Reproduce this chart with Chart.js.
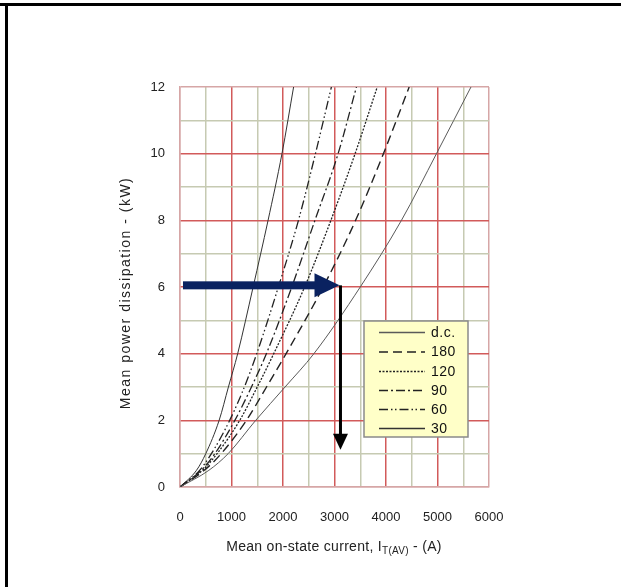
<!DOCTYPE html>
<html><head><meta charset="utf-8">
<script src="https://cdn.jsdelivr.net/npm/chart.js@4/dist/chart.umd.min.js"></script>
<style>html,body{margin:0;padding:0;background:#fff;overflow:hidden}</style>
</head><body>
<canvas id="c" width="621" height="587"></canvas>
<script>
// ---- data ----
const seriesLabels = ['d.c.', '180', '120', '90', '60', '30'];
const powerKW    = [0, 0.5, 1, 2, 3, 4, 6, 8, 10, 12];
const currentDC  = [0, 560, 935, 1470, 2040, 2600, 3500, 4300, 4980, 5650];
const current180 = [0, 470, 800, 1290, 1680, 2060, 2780, 3410, 3950, 4450];
const current120 = [0, 435, 720, 1160, 1500, 1820, 2420, 2930, 3400, 3830];
const current90  = [0, 410, 677, 1065, 1387, 1677, 2170, 2620, 3070, 3426];
const current60  = [0, 380, 610, 965, 1250, 1490, 1910, 2300, 2630, 2940];
const current30  = [0, 320, 500, 760, 940, 1120, 1420, 1710, 1980, 2206];
const xTickLabels = [0, 1000, 2000, 3000, 4000, 5000, 6000];
const yTickLabels = [0, 2, 4, 6, 8, 10, 12];
// annotation arrows in data units: [x1, x2, y] and [x, y1, y2]
const arrowH = [58, 3097, 6.05];
const arrowV = [3116, 6.05, 1.12];

const seriesCurrents = [currentDC, current180, current120, current90, current60, current30];
const styles = [
  {color:'#5a5a5a', dash:[], w:1},
  {color:'#222', dash:[9,5], w:1.4},
  {color:'#222', dash:[2,1.5], w:1.3},
  {color:'#222', dash:[9,3,2,3], w:1.3},
  {color:'#222', dash:[9,3,1.5,2.5,1.5,3], w:1.3},
  {color:'#333', dash:[], w:1},
];
const datasets = seriesLabels.map((lab, i) => ({
  label: lab,
  data: seriesCurrents[i].map((x, k) => ({x: x, y: powerKW[k]})),
  showLine: true,
  borderColor: styles[i].color,
  borderDash: styles[i].dash,
  borderWidth: styles[i].w,
  pointRadius: 0,
  cubicInterpolationMode: 'monotone',
  fill: false
}));

const RED = '#d25a5a', GREEN = '#c6cab2', EDGE = '#d6a6a6';
const FONT = '"Liberation Sans", Arial, sans-serif';

const deco = {
  id: 'deco',
  beforeDraw(chart) {
    const c = chart.ctx;
    c.save();
    c.fillStyle = '#fff';
    c.fillRect(0, 0, chart.width, chart.height);
    c.fillStyle = '#000';
    c.fillRect(0, 3, chart.width, 3);
    c.fillRect(5, 3, 3, chart.height);
    c.restore();
  },
  afterDatasetsDraw(chart) {
    const c = chart.ctx, xs = chart.scales.x, ys = chart.scales.y;
    c.save();
    // horizontal navy arrow
    const hx1 = xs.getPixelForValue(arrowH[0]);
    const hx2 = xs.getPixelForValue(arrowH[1]);
    const hy = ys.getPixelForValue(arrowH[2]);
    c.fillStyle = '#0a2260';
    c.fillRect(hx1, hy - 4, (hx2 - 24) - hx1, 8);
    c.beginPath();
    c.moveTo(hx2 - 25, hy - 12);
    c.lineTo(hx2, hy);
    c.lineTo(hx2 - 25, hy + 12);
    c.closePath();
    c.fill();
    // vertical black arrow
    const vx = xs.getPixelForValue(arrowV[0]);
    const vy1 = ys.getPixelForValue(arrowV[1]);
    const vy2 = ys.getPixelForValue(arrowV[2]);
    c.fillStyle = '#000';
    c.fillRect(vx - 1.5, vy1, 3, (vy2 - 15) - vy1);
    c.beginPath();
    c.moveTo(vx - 7.5, vy2 - 16);
    c.lineTo(vx, vy2);
    c.lineTo(vx + 7.5, vy2 - 16);
    c.closePath();
    c.fill();
    c.restore();
  },
  afterDraw(chart) {
    const c = chart.ctx;
    c.save();
    // legend box
    const bx = 364, by = 321, bw = 104, bh = 116;
    c.fillStyle = '#ffffc8';
    c.fillRect(bx, by, bw, bh);
    c.strokeStyle = '#8a8a8a';
    c.lineWidth = 1.5;
    c.strokeRect(bx, by, bw, bh);
    const rows = [332.5, 352, 371.5, 390.5, 409.5, 428.5];
    chart.data.datasets.forEach((ds, i) => {
      const y = rows[i];
      c.strokeStyle = ds.borderColor;
      c.lineWidth = ds.borderWidth + 0.3;
      c.setLineDash(ds.borderDash);
      c.beginPath();
      c.moveTo(379, y);
      c.lineTo(425, y);
      c.stroke();
      c.setLineDash([]);
      c.fillStyle = '#111';
      c.font = '14px ' + FONT;
      c.letterSpacing = '0.5px';
      c.textBaseline = 'middle';
      c.textAlign = 'left';
      c.fillText(ds.label, 431, y + 0.5);
      c.letterSpacing = '0px';
    });
    // y axis title
    c.fillStyle = '#222';
    c.save();
    c.translate(126, 293);
    c.rotate(-Math.PI / 2);
    c.font = '14px ' + FONT;
    c.letterSpacing = '1.5px';
    c.textAlign = 'center';
    c.textBaseline = 'middle';
    c.fillText('Mean power dissipation - (kW)', 0, 0);
    c.restore();
    // x axis title with subscript
    c.save();
    c.letterSpacing = '0.3px';
    const p1 = 'Mean on-state current, I', sub = 'T(AV)', p2 = ' - (A)';
    c.font = '14px ' + FONT; const w1 = c.measureText(p1).width, w3 = c.measureText(p2).width;
    c.font = '10px ' + FONT; const w2 = c.measureText(sub).width;
    let x = 334 - (w1 + w2 + w3) / 2;
    const base = 551;
    c.textBaseline = 'alphabetic'; c.textAlign = 'left';
    c.font = '14px ' + FONT; c.fillText(p1, x, base); x += w1;
    c.font = '10px ' + FONT; c.fillText(sub, x, base + 3); x += w2;
    c.font = '14px ' + FONT; c.fillText(p2, x, base);
    c.restore();
    c.restore();
  }
};

new Chart(document.getElementById('c'), {
  type: 'scatter',
  data: { datasets },
  options: {
    responsive: false,
    animation: false,
    devicePixelRatio: 1,
    layout: { padding: { left: 0, top: 87, right: 132, bottom: 0 } },
    plugins: { legend: { display: false }, tooltip: { enabled: false } },
    scales: {
      x: {
        type: 'linear', min: 0, max: 6000,
        afterFit(s) { s.height = 100; },
        ticks: {
          stepSize: 500, autoSkip: false, maxRotation: 0, padding: 23,
          color: '#222', font: { family: FONT, size: 13 },
          callback: v => xTickLabels.includes(v) ? String(v) : ''
        },
        grid: {
          drawTicks: false, lineWidth: 1.5,
          color: ctx => (ctx.tick.value === 0 || ctx.tick.value === 6000) ? EDGE : (ctx.tick.value % 1000 === 0 ? RED : GREEN)
        },
        border: { color: EDGE, width: 1.5 }
      },
      y: {
        type: 'linear', min: 0, max: 12,
        afterFit(s) { s.width = 180; },
        ticks: {
          stepSize: 1, autoSkip: false, padding: 15,
          color: '#222', font: { family: FONT, size: 13 },
          callback: v => yTickLabels.includes(v) ? String(v) : ''
        },
        grid: {
          drawTicks: false, lineWidth: 1.5,
          color: ctx => (ctx.tick.value === 0 || ctx.tick.value === 12) ? EDGE : (ctx.tick.value % 2 === 0 ? RED : GREEN)
        },
        border: { color: EDGE, width: 1.5 }
      }
    }
  },
  plugins: [deco]
});
</script>
</body></html>
